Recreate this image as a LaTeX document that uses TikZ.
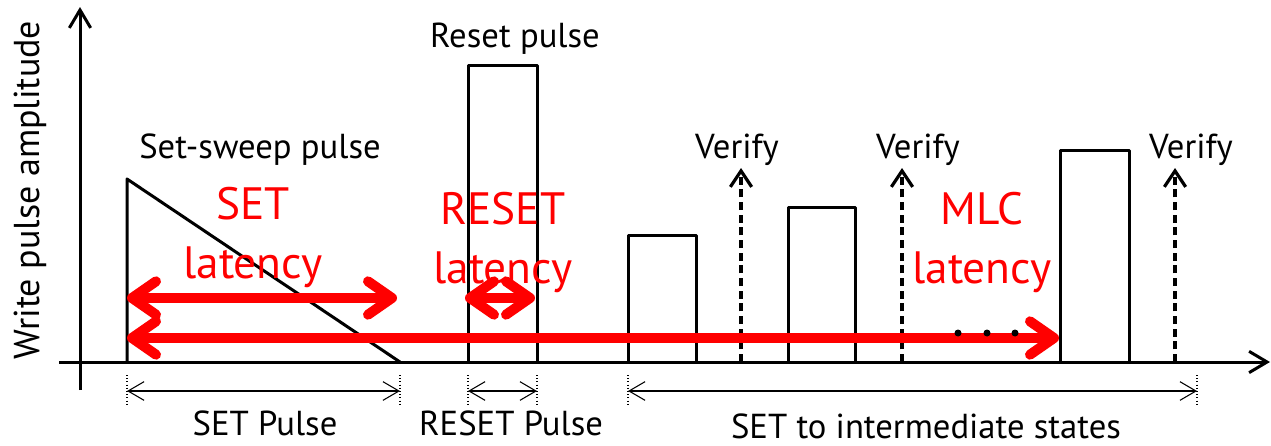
\documentclass[tikz,border=0pt]{standalone}
\usepackage{fontspec}
\setmainfont{PT Sans}
\usepackage{xcolor}
\usepackage{tikz}
\usetikzlibrary{arrows.meta}

\tikzset{
  pulse/.style={line width=2.25pt, line join=round},
  axis/.style={line width=2.25pt, -{Straight Barb[length=13.5pt,width=16pt]}},
  verify/.style={line width=2.4pt, dash pattern={on 6pt off 3.5pt}, -{Straight Barb[length=12pt,width=16pt]}},
  latency/.style={red, line width=7.5pt, {Straight Barb[length=18pt,width=25pt,round]}-{Straight Barb[length=18pt,width=25pt,round]}},
  span/.style={line width=0.8pt, {Straight Barb[length=12pt,width=14pt]}-{Straight Barb[length=12pt,width=14pt]}},
  tick/.style={line width=0.8pt, dash pattern={on 0.8pt off 1.6pt}},
  lbl/.style={font=\fontsize{26}{30}\selectfont, inner sep=0pt, anchor=base},
  redlbl/.style={red, font=\fontsize{34}{44}\selectfont, align=center, inner sep=0pt, anchor=north},
}

\begin{document}
\begin{tikzpicture}[x=0.75pt,y=0.75pt,yscale=-1,xscale=1]
\useasboundingbox (0,0) rectangle (1271,446);

% axes
\coordinate (ybot) at (80,390);
\coordinate (ytop) at (80,7);
\coordinate (xleft) at (59,362);
\coordinate (xright) at (1270,362);
\draw[axis] (ybot) -- (ytop);
\draw[axis] (xleft) -- (xright);
\node[rotate=90, font=\fontsize{27}{30}\selectfont, inner sep=0pt] (ylabel) at (30,190) {Write pulse amplitude};

% set-sweep pulse
\coordinate (sw0) at (127,362);
\coordinate (sw1) at (127,179);
\coordinate (sw2) at (400,362);
\draw[pulse] (sw0) -- (sw1) -- (sw2);

% square pulses
\foreach \xa/\xb/\yt [count=\i] in {468/537/65, 628/696/235, 788/855/207, 1060/1129/150}{
  \coordinate (p\i a) at (\xa,362);
  \coordinate (p\i b) at (\xb,362);
  \draw[pulse] (p\i a) |- (\xb,\yt) -- (p\i b);
}

% verify reads
\foreach \xv/\xl [count=\i] in {741/737,902/918,1175/1191}{
  \coordinate (v\i) at (\xv,362);
  \coordinate (vt\i) at (\xv,168);
  \draw[verify] (v\i) -- (vt\i);
  \node[lbl] (ver\i) at (\xl,158) {Verify};
}

% pulse names
\node[lbl] (sweeplbl) at (260,158) {Set-sweep pulse};
\node[lbl] (resetlbl) at (515,47) {Reset pulse};

% latency arrows
\coordinate (sl0) at (127,298);
\coordinate (sl1) at (397,298);
\coordinate (rl0) at (465,298);
\coordinate (rl1) at (535,298);
\coordinate (ml0) at (127,338);
\coordinate (ml1) at (1059,338);
\draw[latency] (sl0) -- (sl1);
\draw[latency] (rl0) -- (rl1);
\draw[latency] (ml0) -- (ml1);
\foreach \xd in {958,987,1015}
  \fill (\xd,333) circle (3.5);

\node[redlbl] (setlat) at (253,187) {SET\\latency};
\node[redlbl] (resetlat) at (503,192) {RESET\\latency};
\node[redlbl] (mlclat) at (982,192) {MLC\\latency};

% pulse widths
\foreach \xt in {127,400,468,537,628,1197}
  \draw[tick] (\xt,375) -- (\xt,406);
\coordinate (w0) at (127,391);
\coordinate (w1) at (400,391);
\coordinate (w2) at (468,391);
\coordinate (w3) at (537,391);
\coordinate (w4) at (628,391);
\coordinate (w5) at (1197,391);
\draw[span] (w0) -- (w1);
\draw[span] (w2) -- (w3);
\draw[span] (w4) -- (w5);
\node[lbl] (setw) at (265,435) {SET Pulse};
\node[lbl] (resetw) at (511,435) {RESET Pulse};
\node[lbl] (mlcw) at (926,438) {SET to intermediate states};

\end{tikzpicture}
\end{document}
